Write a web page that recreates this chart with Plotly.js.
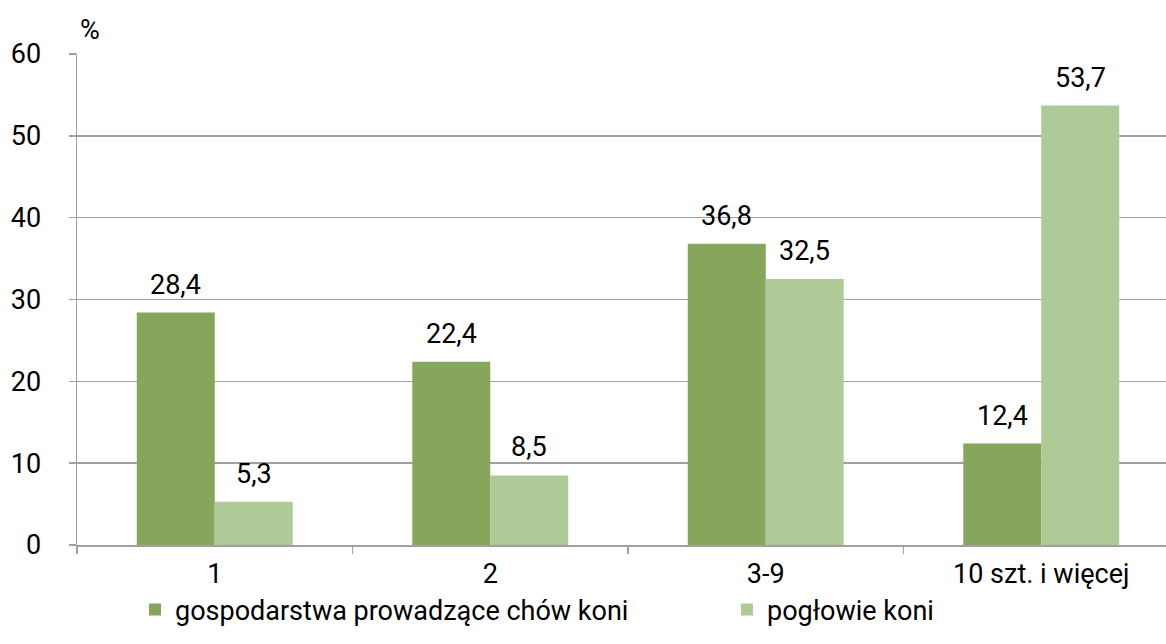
<!DOCTYPE html>
<html>
<head>
<meta charset="utf-8">
<script src="https://cdn.plot.ly/plotly-3.0.1.min.js"></script>
<style>html,body{margin:0;padding:0;background:#fff;overflow:hidden;width:1166px;height:644px;}#chart{width:1179px;height:644px;}</style>
</head>
<body>
<div id="chart"></div>
<script>
const categories = ["1", "2", "3-9", "10 szt. i więcej"];
const farms = [28.4, 22.4, 36.8, 12.4];
const horses = [5.3, 8.5, 32.5, 53.7];
const seriesNames = ["gospodarstwa prowadzące chów koni", "pogłowie koni"];
const yTicks = [0, 10, 20, 30, 40, 50, 60];

const FONT = "Roboto, Open Sans, sans-serif";
const FS = 27;
const BARGAP = 0.434;
const half = (1 - BARGAP) / 4;
const W = 1179, H = 644;

const common = {
  type: "bar",
  x: categories,
  hoverinfo: "none",
  cliponaxis: false
};
const data = [
  Object.assign({}, common, {name: seriesNames[0], y: farms, marker: {color: "#85A65B"}, legend: "legend"}),
  Object.assign({}, common, {name: seriesNames[1], y: horses, marker: {color: "#AECA96"}, legend: "legend2"})
];

const fmt = v => v.toFixed(1).replace(".", ",");
const annotations = [];
[farms, horses].forEach((vals, s) => {
  vals.forEach((v, j) => {
    annotations.push({
      xref: "x", yref: "y", x: j + (s === 0 ? -half : half), y: v,
      text: fmt(v), showarrow: false, xanchor: "center", yanchor: "bottom",
      yshift: 10, font: {family: FONT, size: FS, color: "#000"}
    });
  });
});
annotations.push({
  text: "%", xref: "paper", yref: "paper", x: 0.012, y: 1.049,
  xanchor: "center", yanchor: "middle", showarrow: false,
  font: {family: FONT, size: FS, color: "#000"}
});

const legendBase = {
  orientation: "h", xanchor: "left",
  yref: "container", y: 0.053, yanchor: "middle", xref: "container",
  bgcolor: "rgba(0,0,0,0)",
  font: {family: FONT, size: FS, color: "#000"},
  itemwidth: 30, tracegroupgap: 0
};

const layout = {
  width: W, height: H,
  margin: {l: 77, r: 0, t: 54, b: 99, autoexpand: false},
  paper_bgcolor: "#fff", plot_bgcolor: "#fff",
  font: {family: FONT, size: FS, color: "#000"},
  bargap: BARGAP, bargroupgap: 0,
  xaxis: {
    type: "category",
    showline: true, linecolor: "#a0a0a0", linewidth: 1.5,
    ticks: "outside", tickson: "boundaries", ticklen: 7, tickcolor: "#a0a0a0", tickwidth: 1.5,
    ticklabelstandoff: 4,
    tickfont: {family: FONT, size: FS, color: "#000"},
    showgrid: false, automargin: false
  },
  yaxis: {
    range: [0, 60], tickvals: yTicks,
    showline: true, linecolor: "#a0a0a0", linewidth: 1.5,
    ticks: "outside", ticklen: 7, tickcolor: "#a0a0a0", tickwidth: 1.5,
    gridcolor: "#a0a0a0", gridwidth: 1.5,
    zeroline: false, automargin: false,
    ticklabelstandoff: 22,
    tickfont: {family: FONT, size: FS, color: "#000"}
  },
  showlegend: true,
  legend: Object.assign({}, legendBase, {x: 135 / W}),
  legend2: Object.assign({}, legendBase, {x: 727 / W}),
  annotations: annotations
};
Plotly.newPlot("chart", data, layout, {displayModeBar: false, staticPlot: true});
</script>
</body>
</html>
